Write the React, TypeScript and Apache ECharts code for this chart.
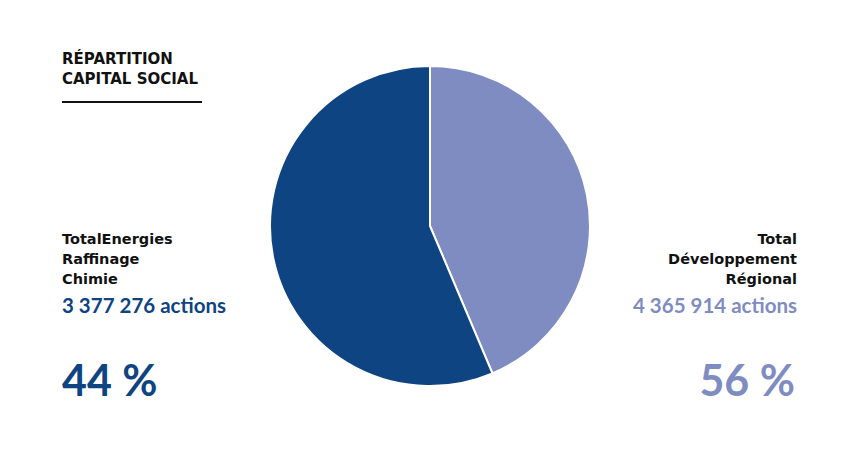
import React, { useEffect, useRef } from "react";
import * as echarts from "echarts";

const title = ["RÉPARTITION", "CAPITAL SOCIAL"];
const leftLabel = ["TotalEnergies", "Raffinage", "Chimie"];
const leftActions = "3 377 276 actions";
const leftPct = "44 %";
const rightLabel = ["Total", "Développement", "Régional"];
const rightActions = "4 365 914 actions";
const rightPct = "56 %";
const sliceNames = ["TotalEnergies Raffinage Chimie", "Total Développement Régional"];
const sliceValues = [3377276, 4365914];
const sliceColors = ["#7f8cc2", "#0e4482"];

const LABEL_FONT = "'DejaVu Sans', sans-serif";
const NUM_FONT = "Lato, sans-serif";

export default function App() {
  const ref = useRef<HTMLDivElement>(null);
  useEffect(() => {
    if (!ref.current) return;
    const chart = echarts.init(ref.current, null, { renderer: "svg" });
    const g: any[] = [];
    title.forEach((t, i) => {
      g.push({
        type: "text", left: 62, top: 51 + i * 20,
        style: { text: t, font: `bold 15px ${LABEL_FONT}`, fill: "#111" },
      });
    });
    g.push({
      type: "line",
      shape: { x1: 62, y1: 102, x2: 202, y2: 102 },
      style: { stroke: "#111", lineWidth: 2 },
    });
    leftLabel.forEach((t, i) => {
      g.push({
        type: "text", left: 62, top: 231 + i * 20,
        style: { text: t, font: `bold 14.5px ${LABEL_FONT}`, fill: "#111" },
      });
    });
    g.push({
      type: "text", left: 62, top: 294,
      style: { text: leftActions, font: `bold 20.5px ${NUM_FONT}`, fill: "#0e4482" },
    });
    g.push({
      type: "text", left: 62, top: 358,
      style: { text: leftPct, font: `bold 43px ${NUM_FONT}`, fill: "#0e4482" },
    });
    rightLabel.forEach((t, i) => {
      g.push({
        type: "text", right: 63, top: 231 + i * 20,
        style: { text: t, font: `bold 14.5px ${LABEL_FONT}`, fill: "#111", textAlign: "right" },
      });
    });
    g.push({
      type: "text", right: 63, top: 294,
      style: { text: rightActions, font: `bold 20.5px ${NUM_FONT}`, fill: "#7f8cc2", textAlign: "right" },
    });
    g.push({
      type: "text", right: 65, top: 358,
      style: { text: rightPct, font: `bold 43px ${NUM_FONT}`, fill: "#7f8cc2", textAlign: "right" },
    });

    chart.setOption({
      animation: false,
      backgroundColor: "#ffffff",
      graphic: g,
      series: [
        {
          type: "pie",
          center: [430, 226],
          radius: 160,
          startAngle: 90,
          clockwise: true,
          label: { show: false },
          labelLine: { show: false },
          emphasis: { disabled: true },
          itemStyle: { borderColor: "#ffffff", borderWidth: 2 },
          data: sliceNames.map((n, i) => ({
            name: n,
            value: sliceValues[i],
            itemStyle: { color: sliceColors[i] },
          })),
        },
      ],
    });
    return () => chart.dispose();
  }, []);
  return (
    <div
      ref={ref}
      style={{ position: "absolute", left: 0, top: 0, width: 860, height: 451 }}
    />
  );
}
